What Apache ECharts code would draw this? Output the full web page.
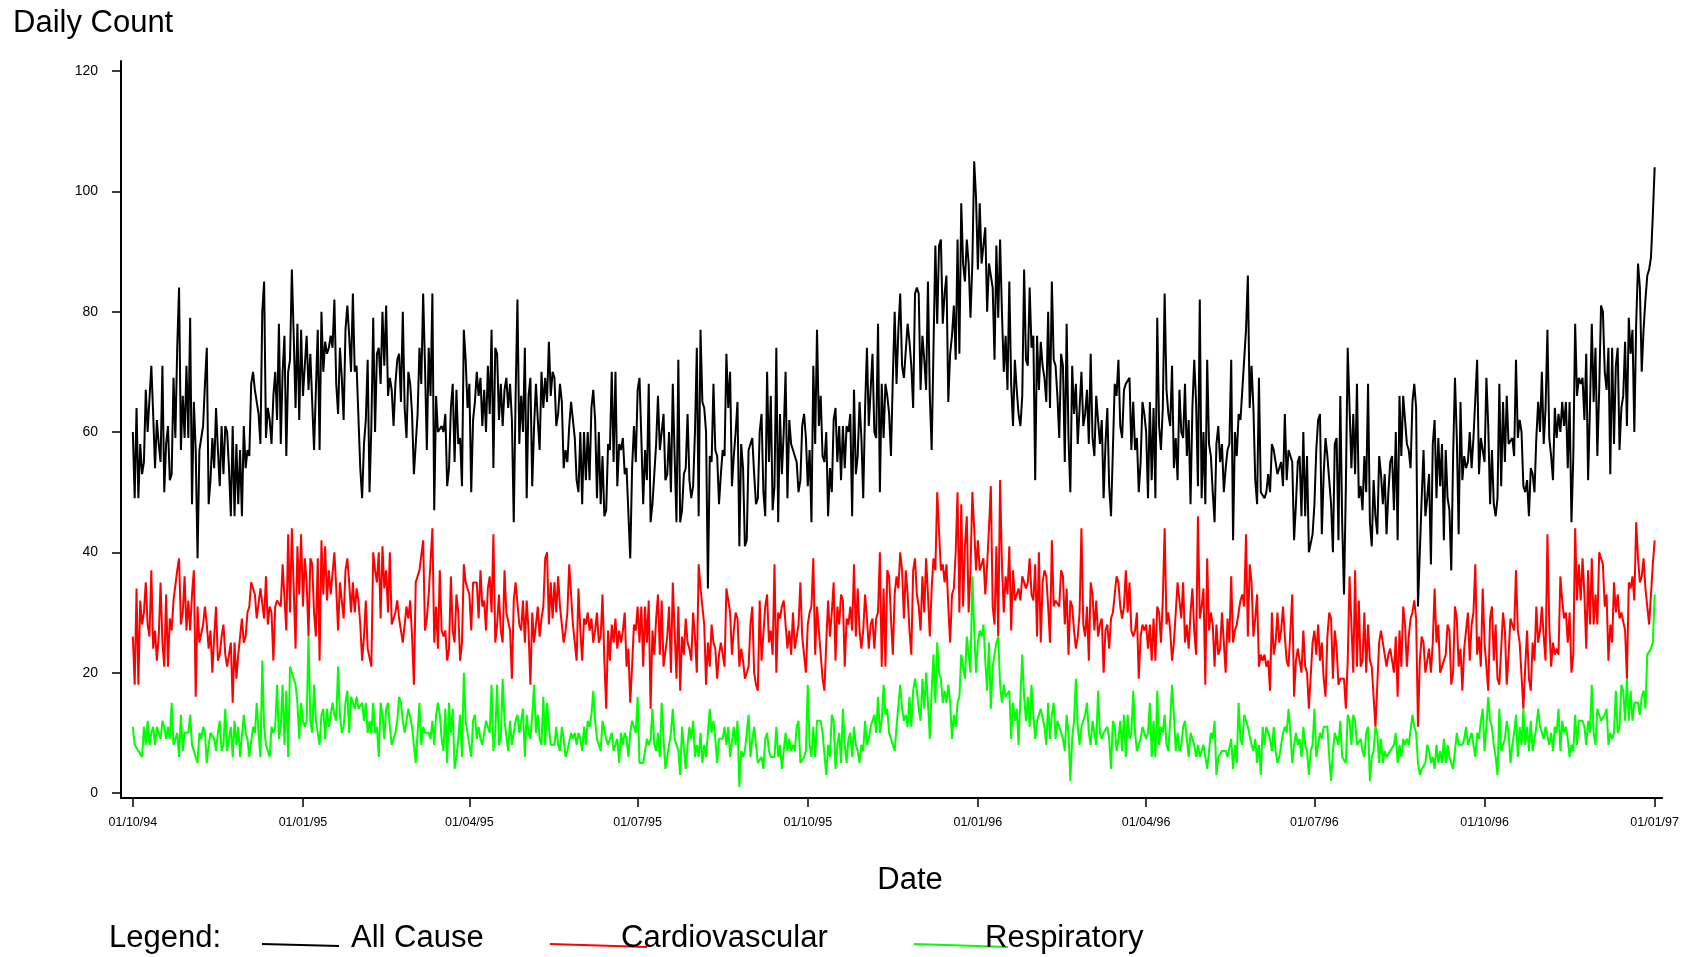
<!DOCTYPE html>
<html>
<head>
<meta charset="utf-8">
<title>Daily Count</title>
<script src="https://cdn.jsdelivr.net/npm/echarts@6/dist/echarts.min.js"></script>
<style>
  html, body { margin: 0; padding: 0; background: #fff; }
  #chart { width: 1682px; height: 957px; }
</style>
</head>
<body>
<div id="chart"></div>
<script>
// first day of the series, one value per day after it
var startDay = Date.UTC(1994, 9, 1);
var DAY = 86400000;

var yTicks = [0, 20, 40, 60, 80, 100, 120];
var xTicks = [[1994, 10], [1995, 1], [1995, 4], [1995, 7], [1995, 10],
              [1996, 1], [1996, 4], [1996, 7], [1996, 10], [1997, 1]];

var allCause = [
    // Oct - Dec 1994
    60,49,64,49,58,53,55,67,60,60,71,63,54,62,58,55,71,50,58,61,
    52,53,69,59,74,84,57,66,59,71,59,79,48,65,57,39,57,59,61,68,
    74,48,52,59,54,64,57,51,61,53,61,60,54,46,61,46,58,48,57,46,
    61,54,57,56,68,70,67,67,63,58,80,85,59,64,62,58,66,70,62,78,
    58,70,
    76,56,70,72,87,76,64,78,62,77,66,
    71,76,67,73,73,57,67,77,57,80,70,
    75,73,74,76,74,82,68,63,74,69,62,
    77,81,76,70,83,70,71,71,54,49,58,
    62,72,50,61,79,60,73,74,68,80,71,
    81,66,69,67,61,68,72,73,65,80,64,
    59,70,68,63,53,58,63,74,68,83,
    71,57,74,66,83,47,66,60,
    60,61,60,63,51,54,64,68,55,67,58,
    59,51,77,72,64,68,50,62,65,70,66,
    69,61,67,60,71,63,77,54,74,73,62,
    68,61,67,69,64,68,62,45,66,82,58,
    66,60,74,49,66,69,51,61,68,62,57,
    70,64,69,65,75,66,70,69,61,63,68,
    65,54,57,55,61,65,65,59,52,50,
    60,48,60,52,60,52,64,67,
    62,49,60,48,56,46,47,58,57,70,55,
    70,51,58,57,59,53,54,54,39,54,61,
    55,67,69,59,48,57,52,68,45,48,53,
    58,66,57,57,63,52,53,60,50,68,56,
    45,72,45,47,53,54,63,52,49,51,60,
    74,46,77,65,64,60,34,56,55,68,
    57,56,48,53,57,56,73,64,70,51,
    56,60,65,41,58,54,41,42,57,
    58,59,53,48,49,60,63,50,46,70,55,
    66,47,51,74,45,63,53,60,70,49,62,
    58,58,56,55,50,52,61,63,59,51,57,
    45,71,58,77,61,66,56,55,60,46,54,
    50,62,64,55,61,52,61,54,61,60,
    63,46,67,53,56,65,59,49,64,74,
    61,67,73,60,59,78,50,68,59,68,
    66,63,56,69,80,68,77,83,71,69,
    69,78,75,71,64,83,84,83,67,76,72,
    67,85,66,57,74,91,78,91,92,78,83,
    86,65,73,76,81,72,92,73,98,88,85,
    92,88,79,88,105,99,87,98,88,88,94,
    80,88,88,84,72,91,79,92,80,70,76,
    67,85,68,61,72,67,63,61,66,87,
    72,71,84,74,76,52,76,67,75,71,
    69,65,80,64,85,72,71,66,59,
    73,71,55,78,59,50,71,63,68,58,64,
    70,61,63,67,58,73,59,56,66,62,58,
    62,49,58,64,51,46,57,68,66,72,61,
    59,67,68,68,69,57,65,57,59,50,55,
    65,63,60,49,65,52,64,49,79,61,57,
    64,83,67,63,61,71,54,59,52,67,60,
    59,68,56,62,48,64,72,65,51,82,
    49,60,48,72,58,56,50,45,
    58,61,55,58,50,54,57,58,72,42,60,
    56,63,62,67,67,77,86,64,71,64,52,
    48,69,50,50,49,50,53,50,58,57,55,
    53,53,55,51,63,52,57,57,55,42,48,
    55,56,46,60,46,56,40,40,43,48,
    57,62,63,43,53,59,56,56,48,40,
    58,59,42,66,45,33,51,74,64,54,
    63,53,68,49,51,47,56,50,68,
    45,41,52,46,43,56,53,48,53,43,50,
    55,56,47,60,42,66,56,66,62,58,57,
    54,65,68,64,31,40,49,57,46,49,53,
    38,58,62,49,59,51,58,42,57,49,47,
    37,56,69,59,43,65,52,56,54,55,60,
    54,59,59,72,53,59,57,55,69,61,
    48,57,48,46,49,68,51,65,55,66,
    58,58,59,56,72,59,62,60,51,
    50,52,46,54,53,50,59,65,60,70,58,
    64,77,59,56,52,64,59,63,60,65,61,
    65,54,65,45,56,78,66,69,68,69,62,
    73,52,64,78,65,74,56,67,81,80,70,
    67,74,53,74,58,71,74,57,64,66,
    75,61,79,73,77,60,78,88,84,70,
    77,82,86,87,89,96,104
];

var cardio = [
    26,18,34,18,32,28,30,35,28,26,
    37,24,27,22,26,35,25,21,33,21,
    29,27,32,32,37,39,28,30,36,27,
    32,27,33,37,16,31,25,25,28,31,
    28,24,27,20,26,31,22,23,26,28,
    23,21,23,25,15,25,19,23,23,29,
    25,26,30,31,35,34,33,29,29,34,
    34,29,36,28,31,30,22,31,32,32,
    31,38,
    38,27,43,30,44,34,24,41,33,43,31,
    39,35,26,39,38,30,26,39,22,42,33,
    41,32,37,33,33,40,34,27,35,32,29,
    37,39,35,30,35,30,34,32,28,22,26,
    32,24,24,21,40,37,35,40,29,41,34,
    37,30,40,28,28,30,32,29,27,25,28,
    31,29,32,26,18,35,35,37,37,42,
    27,29,33,33,44,25,31,24,
    37,27,26,27,22,24,36,27,25,33,30,
    22,25,38,35,34,33,27,35,35,35,29,
    37,31,32,27,34,36,30,43,25,28,33,
    27,25,37,30,30,27,19,32,35,35,28,
    27,32,25,32,27,18,30,25,28,31,26,
    29,31,39,40,28,35,29,35,30,36,31,
    28,25,27,30,38,33,28,25,22,34,27,
    22,29,28,30,27,29,25,
    27,30,25,26,33,22,14,27,22,28,25,
    29,24,27,25,27,30,21,24,15,21,28,
    27,31,25,31,21,31,25,32,14,27,23,
    29,33,23,32,21,21,26,31,20,35,27,
    19,31,17,26,23,29,25,24,22,30,26,
    20,38,34,34,28,18,25,21,28,25,24,
    19,23,25,25,21,34,32,30,23,27,
    30,29,21,24,22,19,20,21,
    28,31,20,18,17,32,22,22,31,33,25,
    27,23,38,20,30,29,31,32,28,24,27,
    23,30,24,24,28,35,26,26,20,28,30,
    31,39,23,31,27,23,19,17,25,32,26,
    30,35,22,31,28,33,32,21,29,28,31,
    27,38,26,34,27,24,27,33,29,24,28,
    29,24,29,30,40,21,34,21,37,36,
    29,23,33,36,34,40,37,29,
    37,33,27,23,37,39,33,31,27,36,30,
    39,33,26,34,39,37,50,50,37,38,35,
    38,31,25,33,34,40,50,30,48,31,41,
    46,30,37,50,44,37,42,37,37,39,33,
    38,44,51,31,28,41,26,52,38,30,36,
    33,41,27,37,32,32,34,32,36,36,34,
    35,39,33,32,38,26,40,25,35,37,
    36,31,25,42,31,32,32,31,
    37,36,28,34,23,32,31,27,24,26,30,
    44,28,26,31,22,35,33,27,32,26,28,
    29,20,27,28,24,29,30,33,36,35,31,
    29,31,37,30,35,27,26,27,30,19,26,
    28,27,28,24,28,22,29,22,31,30,25,
    32,44,28,30,27,22,25,30,35,32,29,
    35,25,28,24,30,34,27,23,46,29,31,
    34,18,39,27,30,28,21,
    28,23,24,30,25,20,29,25,36,25,27,
    28,30,32,33,31,43,26,38,35,26,29,
    33,21,23,22,23,21,22,17,30,23,25,
    30,25,27,31,26,22,21,21,33,16,22,
    24,24,20,27,21,20,14,14,25,27,23,
    28,22,25,19,16,26,30,29,19,27,24,
    18,19,19,19,14,22,36,28,20,37,
    21,32,21,22,30,20,28,
    22,21,21,11,18,25,27,25,25,21,23,
    24,24,20,26,16,27,21,31,28,21,26,
    29,30,32,29,11,22,26,25,20,22,24,
    20,25,34,25,28,20,21,22,23,28,27,
    18,20,31,29,21,24,17,24,27,30,22,
    28,30,38,23,26,21,34,25,25,17,29,
    31,22,28,19,18,24,30,27,18,23,
    29,28,27,37,27,25,25,14,
    21,27,19,17,25,22,31,25,27,31,26,
    22,43,28,21,25,23,24,23,36,32,29,
    30,25,30,20,23,44,32,38,32,39,33,
    24,37,28,39,28,33,28,40,40,38,31,
    33,22,28,25,35,30,33,29,30,30,27,
    19,35,34,36,32,45,39,35,36,39,34,
    31,28,33,38,42
];

var resp = [
    11,8,8,7,7,6,11,8,12,8,10,11,8,11,10,9,12,11,9,11,9,
    15,8,8,10,6,13,7,10,10,10,13,8,8,6,5,10,9,11,10,5,8,
    10,10,9,7,10,12,7,8,14,7,7,11,6,12,8,11,6,6,13,10,9,
    6,6,11,10,15,10,6,22,11,8,8,6,11,10,11,18,9,11,18,
    8,17,6,21,20,19,18,15,9,15,12,
    11,12,26,12,10,18,12,10,8,13,14,
    9,14,11,13,15,13,12,21,13,10,11,
    15,17,10,16,15,14,16,14,14,15,12,
    15,10,12,10,15,10,11,6,15,13,9,
    14,15,11,8,8,10,12,16,15,12,10,
    12,14,14,11,11,5,10,15,8,11,
    10,10,10,9,12,8,13,15,
    13,9,7,14,5,15,10,14,4,6,9,
    13,6,20,12,10,8,6,12,13,9,11,
    9,8,8,12,12,10,18,7,10,18,8,
    9,19,12,12,7,12,8,10,12,13,10,
    12,14,6,13,10,9,13,18,10,13,9,
    8,16,8,15,11,8,8,8,11,8,7,
    11,9,6,7,7,10,9,10,8,10,9,
    7,11,8,12,11,13,17,
    12,9,8,7,12,12,9,8,8,10,7,
    8,9,5,10,8,10,9,6,10,12,11,
    10,16,5,5,5,7,9,8,9,14,8,
    7,10,6,15,9,4,6,8,10,14,9,
    8,7,3,11,11,4,8,11,9,12,6,
    8,6,10,5,8,6,10,14,10,12,9,
    5,9,9,9,11,8,11,6,6,11,8,
    12,1,7,6,7,10,13,
    6,9,11,8,5,5,6,4,9,10,7,
    6,6,6,11,6,8,4,7,10,7,9,
    7,8,7,11,12,5,5,6,7,18,8,
    6,11,6,12,12,12,10,10,3,8,6,
    13,12,4,8,10,5,14,8,5,9,10,
    6,11,8,7,5,8,7,12,8,9,11,
    11,13,10,16,10,12,18,13,14,10,
    9,9,7,11,11,18,14,12,
    13,11,16,11,17,19,17,14,12,19,14,
    20,15,9,17,23,15,25,20,19,15,17,
    15,18,15,9,13,11,15,16,23,23,19,
    26,26,20,36,27,20,25,27,26,28,22,
    17,25,14,21,23,25,26,18,15,18,16,
    16,17,9,15,12,14,8,16,23,16,12,
    16,11,18,13,9,12,13,14,14,11,
    8,15,9,13,15,9,12,11,
    11,9,7,13,10,2,9,12,19,11,8,
    11,11,13,15,10,8,12,12,8,17,10,
    9,10,10,11,9,4,12,11,7,9,12,
    7,13,6,13,9,10,17,10,7,8,9,
    11,11,9,10,15,6,12,6,17,8,11,
    10,13,8,7,12,18,13,7,10,7,8,
    11,12,12,6,10,9,8,6,8,6,7,
    8,8,4,7,10,9,12,
    3,6,6,7,7,7,6,6,9,4,8,
    5,15,9,8,13,12,11,11,8,7,9,
    5,8,3,11,8,11,10,9,7,11,7,
    5,6,6,10,11,10,14,10,5,8,10,
    8,9,6,11,8,7,3,7,8,14,6,
    8,10,9,11,11,11,6,2,7,10,9,
    8,12,6,6,5,13,12,8,13,12,
    8,8,9,7,6,10,11,
    2,6,7,11,10,5,9,5,7,6,6,
    7,7,8,10,5,8,6,9,8,9,8,
    8,13,11,10,5,3,4,4,5,8,7,
    5,6,4,8,5,7,5,9,5,8,6,
    6,4,4,10,8,8,8,9,11,8,9,
    10,10,6,10,9,12,14,7,11,16,
    12,11,8,6,3,14,7,8,9,12,
    10,5,8,10,13,6,11,8,14,
    8,11,7,12,7,9,11,14,11,11,9,
    11,11,8,10,7,11,10,14,7,12,10,
    11,9,6,8,7,13,8,12,12,12,11,
    8,12,10,18,10,8,14,14,12,12,13,
    14,8,10,9,10,17,10,11,18,17,12,
    19,12,17,12,15,15,15,13,16,17,14,
    23,23,24,25,33
];

function toPoints(values) {
    var out = [];
    for (var i = 0; i < values.length; i++) {
        out.push([startDay + i * DAY, values[i]]);
    }
    return out;
}

function pad2(n) {
    return (n < 10 ? '0' : '') + n;
}

var xTickValues = xTicks.map(function (t) { return Date.UTC(t[0], t[1] - 1, 1); });

var FONT = "'Liberation Sans', Arial, Helvetica, sans-serif";

var chart = echarts.init(document.getElementById('chart'));

var option = {
    animation: false,
    backgroundColor: '#ffffff',
    grid: {
        left: 121,
        right: 19,
        top: 61,
        bottom: 159
    },
    xAxis: {
        type: 'value',
        min: startDay - 6.4 * DAY,
        max: Date.UTC(1997, 0, 1) + 4.05 * DAY,
        axisLine: { show: true, onZero: false, lineStyle: { color: '#000', width: 2 } },
        axisTick: {
            show: true,
            length: 9,
            customValues: xTickValues,
            lineStyle: { color: '#000', width: 1.5 }
        },
        axisLabel: {
            customValues: xTickValues,
            margin: 18,
            color: '#000',
            fontSize: 12.5,
            fontFamily: "'Liberation Sans Narrow', 'Liberation Sans', Arial, sans-serif",
            hideOverlap: false,
            formatter: function (value) {
                var d = new Date(value);
                return pad2(d.getUTCDate()) + '/' + pad2(d.getUTCMonth() + 1) + '/' +
                    pad2(d.getUTCFullYear() % 100);
            }
        },
        splitLine: { show: false }
    },
    yAxis: {
        type: 'value',
        min: -0.83,
        max: 121.66,
        axisLine: { show: true, lineStyle: { color: '#000', width: 2 } },
        axisTick: {
            show: true,
            length: 9,
            customValues: yTicks,
            lineStyle: { color: '#000', width: 1.5 }
        },
        axisLabel: {
            customValues: yTicks,
            margin: 23,
            color: '#000',
            fontSize: 14,
            fontFamily: FONT
        },
        splitLine: { show: false }
    },
    series: [{
        name: 'All Cause',
        type: 'line',
        symbol: 'none',
        data: toPoints(allCause),
        lineStyle: { color: '#000000', width: 2 },
        itemStyle: { color: '#000000' }
    }, {
        name: 'Cardiovascular',
        type: 'line',
        symbol: 'none',
        data: toPoints(cardio),
        lineStyle: { color: '#ff0000', width: 2 },
        itemStyle: { color: '#ff0000' }
    }, {
        name: 'Respiratory',
        type: 'line',
        symbol: 'none',
        data: toPoints(resp),
        lineStyle: { color: '#00ff00', width: 2 },
        itemStyle: { color: '#00ff00' }
    }],
    graphic: [
        { type: 'text', left: 13, top: 8, style: { text: 'Daily Count', font: '31px ' + FONT, fill: '#000' } },
        { type: 'text', x: 910, y: 880, style: { text: 'Date', font: '31px ' + FONT, fill: '#000', align: 'center', verticalAlign: 'middle' } },
        { type: 'text', x: 109, y: 938, style: { text: 'Legend:', font: '31px ' + FONT, fill: '#000', verticalAlign: 'middle' } },
        { type: 'line', shape: { x1: 262, y1: 944, x2: 339, y2: 946 }, style: { stroke: '#000000', lineWidth: 1.8 } },
        { type: 'text', x: 351, y: 938, style: { text: 'All Cause', font: '31px ' + FONT, fill: '#000', verticalAlign: 'middle' } },
        { type: 'line', shape: { x1: 550, y1: 944, x2: 647, y2: 947 }, style: { stroke: '#ff0000', lineWidth: 1.8 } },
        { type: 'text', x: 621, y: 938, style: { text: 'Cardiovascular', font: '31px ' + FONT, fill: '#000', verticalAlign: 'middle' } },
        { type: 'line', shape: { x1: 914, y1: 944, x2: 1008, y2: 947 }, style: { stroke: '#00ff00', lineWidth: 1.8 } },
        { type: 'text', x: 985, y: 938, style: { text: 'Respiratory', font: '31px ' + FONT, fill: '#000', verticalAlign: 'middle' } }
    ]
};

chart.setOption(option);
</script>
</body>
</html>
